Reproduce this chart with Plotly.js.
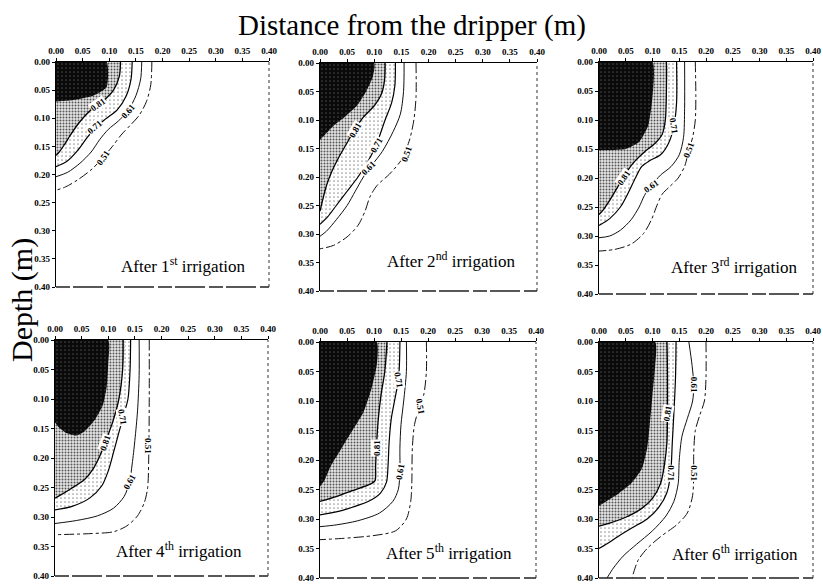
<!DOCTYPE html>
<html><head><meta charset="utf-8">
<script src="https://cdn.plot.ly/plotly-3.0.1.min.js"></script>
<style>html,body{margin:0;padding:0;background:#fff}#chart{width:823px;height:586px}</style>
</head><body><div id="chart"></div>
<script>
// ---- axis ticks ----
const axisTicks = [0, 0.05, 0.10, 0.15, 0.20, 0.25, 0.30, 0.35, 0.40];
const axisTickText = ['0.00','0.05','0.10','0.15','0.20','0.25','0.30','0.35','0.40'];
const contourLevels = ['0.81','0.71','0.61','0.51'];
const panelTitles = ['After 1<sup>st</sup> irrigation','After 2<sup>nd</sup> irrigation','After 3<sup>rd</sup> irrigation',
                     'After 4<sup>th</sup> irrigation','After 5<sup>th</sup> irrigation','After 6<sup>th</sup> irrigation'];

// ---- panel 1 (x = distance m, y = depth m) ----
const p1DarkX = [0, 0.095, 0.095, 0.07, 0.03, 0];
const p1DarkY = [0, 0, 0.045, 0.06, 0.068, 0.07];
const p1L81X = [0.121, 0.119, 0.108, 0.09, 0.072, 0.055, 0.04, 0.027, 0.015, 0.006, 0];
const p1L81Y = [0, 0.025, 0.05, 0.068, 0.08, 0.095, 0.112, 0.13, 0.148, 0.16, 0.166];
const p1L71X = [0.143, 0.141, 0.132, 0.115, 0.092, 0.075, 0.058, 0.04, 0.02, 0];
const p1L71Y = [0, 0.03, 0.06, 0.085, 0.102, 0.116, 0.135, 0.158, 0.177, 0.186];
const p1L61X = [0.161, 0.159, 0.15, 0.135, 0.117, 0.098, 0.082, 0.066, 0.045, 0.022, 0];
const p1L61Y = [0, 0.03, 0.06, 0.087, 0.105, 0.12, 0.138, 0.16, 0.18, 0.196, 0.204];
const p1L51X = [0.18, 0.178, 0.17, 0.156, 0.14, 0.122, 0.106, 0.088, 0.068, 0.04, 0.018, 0];
const p1L51Y = [0, 0.04, 0.07, 0.095, 0.112, 0.13, 0.15, 0.17, 0.19, 0.21, 0.222, 0.228];
const p1LabX = [0.078, 0.073, 0.136, 0.088];
const p1LabY = [0.076, 0.116, 0.087, 0.17];
const p1LabAngle = [-35, -40, -50, -55];

// ---- panel 2 ----
const p2DarkX = [0, 0.1, 0.097, 0.085, 0.068, 0.045, 0.025, 0.01, 0];
const p2DarkY = [0, 0, 0.025, 0.05, 0.075, 0.095, 0.11, 0.125, 0.135];
const p2L81X = [0.12, 0.119, 0.113, 0.1, 0.08, 0.064, 0.05, 0.035, 0.022, 0.012, 0.005, 0];
const p2L81Y = [0, 0.03, 0.055, 0.075, 0.095, 0.117, 0.14, 0.165, 0.19, 0.215, 0.24, 0.26];
const p2L71X = [0.139, 0.138, 0.132, 0.12, 0.104, 0.09, 0.07, 0.05, 0.03, 0.014, 0];
const p2L71Y = [0, 0.04, 0.07, 0.1, 0.143, 0.17, 0.2, 0.225, 0.25, 0.27, 0.283];
const p2L61X = [0.155, 0.154, 0.148, 0.135, 0.115, 0.095, 0.08, 0.065, 0.05, 0.03, 0.012, 0];
const p2L61Y = [0, 0.05, 0.09, 0.12, 0.155, 0.18, 0.2, 0.225, 0.25, 0.275, 0.295, 0.304];
const p2L51X = [0.177, 0.177, 0.173, 0.165, 0.15, 0.128, 0.105, 0.092, 0.083, 0.07, 0.05, 0.025, 0];
const p2L51Y = [0, 0.06, 0.1, 0.135, 0.17, 0.195, 0.215, 0.235, 0.26, 0.285, 0.305, 0.32, 0.326];
const p2LabX = [0.065, 0.104, 0.09, 0.16];
const p2LabY = [0.117, 0.143, 0.185, 0.16];
const p2LabAngle = [-60, -60, -45, -70];

// ---- panel 3 ----
const p3DarkX = [0, 0.1, 0.1, 0.092, 0.075, 0.05, 0];
const p3DarkY = [0, 0, 0.06, 0.11, 0.138, 0.15, 0.152];
const p3L81X = [0.126, 0.126, 0.124, 0.118, 0.105, 0.085, 0.068, 0.055, 0.045, 0.032, 0.019, 0.008, 0];
const p3L81Y = [0, 0.05, 0.1, 0.125, 0.14, 0.155, 0.17, 0.185, 0.2, 0.22, 0.24, 0.255, 0.263];
const p3L71X = [0.145, 0.145, 0.14, 0.13, 0.115, 0.095, 0.08, 0.068, 0.055, 0.04, 0.02, 0];
const p3L71Y = [0, 0.07, 0.11, 0.14, 0.16, 0.17, 0.18, 0.2, 0.225, 0.25, 0.27, 0.282];
const p3L61X = [0.16, 0.16, 0.158, 0.15, 0.135, 0.115, 0.098, 0.085, 0.075, 0.06, 0.04, 0.02, 0];
const p3L61Y = [0, 0.08, 0.13, 0.16, 0.18, 0.195, 0.213, 0.23, 0.25, 0.272, 0.29, 0.3, 0.303];
const p3L51X = [0.18, 0.181, 0.18, 0.175, 0.168, 0.16, 0.148, 0.132, 0.118, 0.108, 0.098, 0.083, 0.06, 0.03, 0];
const p3L51Y = [0, 0.06, 0.1, 0.13, 0.152, 0.18, 0.2, 0.215, 0.228, 0.248, 0.272, 0.296, 0.314, 0.323, 0.326];
const p3LabX = [0.046, 0.14, 0.098, 0.168];
const p3LabY = [0.2, 0.11, 0.213, 0.152];
const p3LabAngle = [-55, 80, -35, -70];

// ---- panel 4 ----
const p4DarkX = [0, 0.1, 0.1, 0.097, 0.09, 0.075, 0.055, 0.04, 0.02, 0.007, 0];
const p4DarkY = [0, 0, 0.04, 0.08, 0.11, 0.135, 0.155, 0.162, 0.157, 0.148, 0.14];
const p4L81X = [0.128, 0.127, 0.12, 0.108, 0.094, 0.085, 0.072, 0.055, 0.03, 0.01, 0];
const p4L81Y = [0, 0.05, 0.1, 0.14, 0.174, 0.195, 0.218, 0.237, 0.252, 0.263, 0.268];
const p4L71X = [0.142, 0.141, 0.137, 0.128, 0.119, 0.11, 0.1, 0.088, 0.065, 0.032, 0];
const p4L71Y = [0, 0.05, 0.1, 0.13, 0.16, 0.19, 0.222, 0.247, 0.268, 0.282, 0.288];
const p4L61X = [0.158, 0.158, 0.155, 0.15, 0.145, 0.14, 0.13, 0.11, 0.08, 0.04, 0];
const p4L61Y = [0, 0.06, 0.12, 0.17, 0.21, 0.24, 0.265, 0.285, 0.298, 0.306, 0.311];
const p4L51X = [0.177, 0.177, 0.176, 0.174, 0.168, 0.155, 0.135, 0.11, 0.07, 0];
const p4L51Y = [0, 0.1, 0.2, 0.25, 0.275, 0.298, 0.315, 0.325, 0.328, 0.33];
const p4LabX = [0.094, 0.127, 0.14, 0.175];
const p4LabY = [0.174, 0.13, 0.241, 0.18];
const p4LabAngle = [-70, 80, -60, 90];

// ---- panel 5 ----
const p5DarkX = [0, 0.105, 0.105, 0.095, 0.08, 0.06, 0.04, 0.02, 0.008, 0];
const p5DarkY = [0, 0, 0.04, 0.08, 0.12, 0.15, 0.18, 0.21, 0.235, 0.245];
const p5L81X = [0.124, 0.12, 0.113, 0.108, 0.105, 0.103, 0.102, 0.095, 0.06, 0.03, 0];
const p5L81Y = [0, 0.05, 0.09, 0.13, 0.17, 0.21, 0.235, 0.24, 0.252, 0.262, 0.27];
const p5L71X = [0.148, 0.147, 0.145, 0.138, 0.132, 0.128, 0.126, 0.123, 0.112, 0.09, 0.06, 0.03, 0];
const p5L71Y = [0, 0.04, 0.065, 0.1, 0.13, 0.17, 0.21, 0.238, 0.256, 0.27, 0.28, 0.288, 0.293];
const p5L61X = [0.16, 0.16, 0.155, 0.15, 0.148, 0.148, 0.145, 0.135, 0.11, 0.07, 0.03, 0];
const p5L61Y = [0, 0.05, 0.1, 0.14, 0.18, 0.22, 0.25, 0.27, 0.29, 0.303, 0.31, 0.313];
const p5L51X = [0.197, 0.197, 0.192, 0.184, 0.175, 0.171, 0.17, 0.168, 0.16, 0.14, 0.1, 0.04, 0];
const p5L51Y = [0, 0.05, 0.09, 0.11, 0.14, 0.18, 0.24, 0.27, 0.3, 0.32, 0.328, 0.333, 0.335];
const p5LabX = [0.105, 0.145, 0.148, 0.186];
const p5LabY = [0.18, 0.065, 0.22, 0.11];
const p5LabAngle = [-90, 80, -80, 80];

// ---- panel 6 ----
const p6DarkX = [0, 0.105, 0.105, 0.1, 0.095, 0.09, 0.08, 0.06, 0.035, 0.01, 0];
const p6DarkY = [0, 0, 0.04, 0.09, 0.14, 0.18, 0.215, 0.24, 0.258, 0.272, 0.278];
const p6L81X = [0.127, 0.128, 0.128, 0.127, 0.122, 0.115, 0.1, 0.08, 0.05, 0.02, 0];
const p6L81Y = [0, 0.05, 0.12, 0.17, 0.21, 0.24, 0.265, 0.282, 0.297, 0.307, 0.312];
const p6L71X = [0.144, 0.143, 0.14, 0.137, 0.134, 0.127, 0.112, 0.09, 0.062, 0.035, 0.015, 0];
const p6L71Y = [0, 0.06, 0.12, 0.17, 0.222, 0.255, 0.28, 0.3, 0.315, 0.33, 0.342, 0.35];
const p6L61X = [0.168, 0.174, 0.177, 0.175, 0.165, 0.155, 0.15, 0.148, 0.14, 0.125, 0.1, 0.07, 0.045, 0.027, 0.015];
const p6L61Y = [0, 0.04, 0.072, 0.1, 0.13, 0.16, 0.2, 0.24, 0.27, 0.295, 0.32, 0.343, 0.363, 0.383, 0.4];
const p6L51X = [0.2, 0.2, 0.197, 0.188, 0.18, 0.177, 0.177, 0.175, 0.165, 0.145, 0.115, 0.09, 0.073, 0.065, 0.062];
const p6L51Y = [0, 0.06, 0.1, 0.125, 0.15, 0.19, 0.222, 0.26, 0.29, 0.31, 0.33, 0.35, 0.37, 0.39, 0.4];
const p6LabX = [0.128, 0.134, 0.177, 0.177];
const p6LabY = [0.12, 0.222, 0.072, 0.222];
const p6LabAngle = [-80, 90, 90, 90];

// ---------------- build ----------------
const W = 823, H = 586;
const panels = [
  {dx:p1DarkX, dy:p1DarkY, L:[[p1L81X,p1L81Y],[p1L71X,p1L71Y],[p1L61X,p1L61Y],[p1L51X,p1L51Y]], lx:p1LabX, ly:p1LabY, la:p1LabAngle, px:[56,269], py:[62,287], ty:0.36, tx:0.36},
  {dx:p2DarkX, dy:p2DarkY, L:[[p2L81X,p2L81Y],[p2L71X,p2L71Y],[p2L61X,p2L61Y],[p2L51X,p2L51Y]], lx:p2LabX, ly:p2LabY, la:p2LabAngle, px:[320,537], py:[63,291], ty:0.345, tx:0.365},
  {dx:p3DarkX, dy:p3DarkY, L:[[p3L81X,p3L81Y],[p3L71X,p3L71Y],[p3L61X,p3L61Y],[p3L51X,p3L51Y]], lx:p3LabX, ly:p3LabY, la:p3LabAngle, px:[599,813], py:[62,294], ty:0.352, tx:0.376},
  {dx:p4DarkX, dy:p4DarkY, L:[[p4L81X,p4L81Y],[p4L71X,p4L71Y],[p4L61X,p4L61Y],[p4L51X,p4L51Y]], lx:p4LabX, ly:p4LabY, la:p4LabAngle, px:[55,268], py:[340,576], ty:0.356, tx:0.354},
  {dx:p5DarkX, dy:p5DarkY, L:[[p5L81X,p5L81Y],[p5L71X,p5L71Y],[p5L61X,p5L61Y],[p5L51X,p5L51Y]], lx:p5LabX, ly:p5LabY, la:p5LabAngle, px:[320,536], py:[342,578], ty:0.356, tx:0.36},
  {dx:p6DarkX, dy:p6DarkY, L:[[p6L81X,p6L81Y],[p6L71X,p6L71Y],[p6L61X,p6L61Y],[p6L51X,p6L51Y]], lx:p6LabX, ly:p6LabY, la:p6LabAngle, px:[599,813], py:[342,578], ty:0.358, tx:0.376}
];
const serif = 'Liberation Serif, Times New Roman, serif';
const traces = [];
const layout = {
  width: W, height: H, margin: {l:0, r:0, t:0, b:0},
  paper_bgcolor: '#fff', plot_bgcolor: '#fff', showlegend: false,
  annotations: [], shapes: [],
  font: {family: serif, color: '#000'}
};
const lineStyles = [
  {color:'#000', width:1.3, dash:'solid'},
  {color:'#000', width:1.2, dash:'solid'},
  {color:'#111', width:1.0, dash:'solid'},
  {color:'#111', width:1.0, dash:'10px,3px,3px,3px'}
];
panels.forEach((p, i) => {
  const n = i + 1;
  const xa = 'x' + (n === 1 ? '' : n), ya = 'y' + (n === 1 ? '' : n);
  const xk = 'xaxis' + (n === 1 ? '' : n), yk = 'yaxis' + (n === 1 ? '' : n);
  const axCommon = {
    tickvals: axisTicks, ticktext: axisTickText, ticks: 'outside', ticklen: 3, tickwidth: 1,
    tickcolor: '#000', showline: true, linecolor: '#000', linewidth: 1.3, showgrid: false, zeroline: false,
    tickfont: {family: serif, size: 9, color: '#000', weight: 'bold'}, fixedrange: true
  };
  layout[xk] = Object.assign({}, axCommon, {
    domain: [p.px[0] / W, p.px[1] / W], range: [0, 0.4], side: 'top', anchor: ya
  });
  layout[yk] = Object.assign({}, axCommon, {
    domain: [1 - p.py[1] / H, 1 - p.py[0] / H], range: [0.4, 0], anchor: xa
  });
  // light stipple region inside 0.71 contour (sparse)
  traces.push({type:'scatter', x:[0].concat(p.L[1][0]), y:[0].concat(p.L[1][1]), xaxis:xa, yaxis:ya,
    mode:'lines', line:{width:0, shape:'spline', smoothing:0.6}, fill:'toself', fillcolor:'#f2f2f2',
    fillpattern:{shape:'.', fgcolor:'#9a9a9a', bgcolor:'#ffffff', size:4, solidity:0.15}, hoverinfo:'skip'});
  // stipple region inside 0.81 contour
  traces.push({type:'scatter', x:[0].concat(p.L[0][0]), y:[0].concat(p.L[0][1]), xaxis:xa, yaxis:ya,
    mode:'lines', line:{width:0, shape:'spline', smoothing:0.6}, fill:'toself', fillcolor:'#c8c8c8',
    fillpattern:{shape:'.', fgcolor:'#555555', bgcolor:'#e6e6e6', size:3, solidity:0.35}, hoverinfo:'skip'});
  // dark region
  traces.push({type:'scatter', x:p.dx, y:p.dy, xaxis:xa, yaxis:ya,
    mode:'lines', line:{width:0, shape:'spline', smoothing:0.5}, fill:'toself', fillcolor:'#0a0a0a',
    fillpattern:{shape:'.', fgcolor:'#444444', bgcolor:'#0a0a0a', size:4, solidity:0.15}, hoverinfo:'skip'});
  // contour lines
  p.L.forEach((l, k) => {
    traces.push({type:'scatter', x:l[0], y:l[1], xaxis:xa, yaxis:ya, mode:'lines',
      line:Object.assign({shape:'spline', smoothing:0.8}, lineStyles[k]), hoverinfo:'skip'});
  });
  // contour labels (line broken under the label, as in the original)
  p.lx.forEach((xv, k) => {
    layout.annotations.push({xref:xa, yref:ya, x:xv, y:p.ly[k], text:contourLevels[k], showarrow:false,
      textangle:p.la[k], bgcolor:'#ffffff', borderpad:0,
      font:{family:serif, size:9, color:'#000', weight:'bold'}});
  });
  // panel caption
  layout.annotations.push({xref:xa, yref:ya, x:p.tx, y:p.ty, xanchor:'right', yanchor:'middle',
    text:panelTitles[i], showarrow:false, font:{family:serif, size:17, color:'#000'}});
  // right and bottom frame (broken lines as in the scan)
  layout.shapes.push({type:'line', xref:xa + ' domain', yref:ya + ' domain', x0:1, x1:1, y0:0, y1:1,
    line:{color:'#333', width:1, dash:'dot'}});
  layout.shapes.push({type:'line', xref:xa + ' domain', yref:ya + ' domain', x0:0, x1:1, y0:0, y1:0,
    line:{color:'#222', width:1.4, dash:'14px,3px,30px,4px'}});
});
// figure-level titles
layout.annotations.push({xref:'paper', yref:'paper', x:412 / W, y:1 - 26 / H, xanchor:'center', yanchor:'middle',
  text:'Distance from the dripper (m)', showarrow:false, font:{family:serif, size:29, color:'#000'}});
layout.annotations.push({xref:'paper', yref:'paper', x:22 / W, y:1 - 300 / H, xanchor:'center', yanchor:'middle',
  text:'Depth (m)', textangle:-90, showarrow:false, font:{family:serif, size:30, color:'#000'}});

Plotly.newPlot('chart', traces, layout, {staticPlot:true, displayModeBar:false});
</script></body></html>
